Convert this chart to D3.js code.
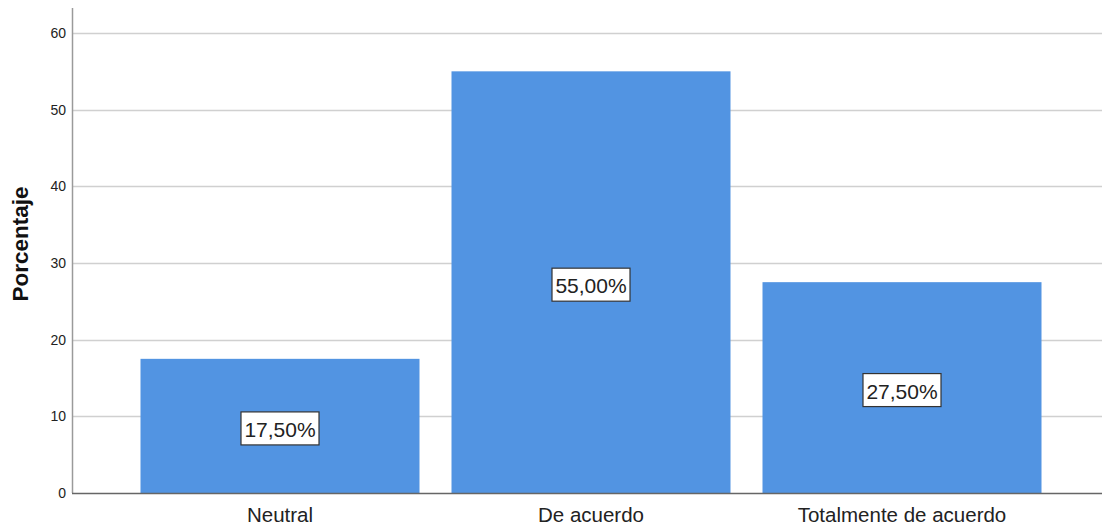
<!DOCTYPE html>
<html>
<head>
<meta charset="utf-8">
<script src="https://cdn.jsdelivr.net/npm/d3@7"></script>
<style>
html,body{margin:0;padding:0;background:#fff;}
svg{display:block;font-family:"Liberation Sans",Arial,sans-serif;}
</style>
</head>
<body>
<svg id="chart" width="1102" height="526"></svg>
<script>
const categories = ["Neutral", "De acuerdo", "Totalmente de acuerdo"];
const values = [17.5, 55.0, 27.5];
const valueLabels = ["17,50%", "55,00%", "27,50%"];
const yTicks = [0, 10, 20, 30, 40, 50, 60];
const yTitle = "Porcentaje";

const svg = d3.select("#chart");
const axisX = 72, plotRight = 1102, plotBottom = 493, axisTop = 8;

const y = d3.scaleLinear().domain([0, 60]).range([plotBottom, 33]);
const x = d3.scaleBand().domain(categories)
  .range([124.5, 1057.5]).paddingInner(32/311).paddingOuter(16/311);

// gridlines
svg.append("g").selectAll("line").data(yTicks.filter(d => d > 0)).join("line")
  .attr("x1", axisX).attr("x2", plotRight)
  .attr("y1", d => Math.round(y(d)) + 0.5).attr("y2", d => Math.round(y(d)) + 0.5)
  .attr("stroke", "#d0d0d0").attr("stroke-width", 1.5);

// bars
svg.append("g").selectAll("rect").data(categories).join("rect")
  .attr("x", d => x(d)).attr("width", x.bandwidth())
  .attr("y", (d, i) => y(values[i])).attr("height", (d, i) => plotBottom - y(values[i]))
  .attr("fill", "#5294e2");

// y axis
const yAxis = d3.axisLeft(y).tickValues(yTicks).tickSize(0).tickPadding(6);
const gy = svg.append("g").attr("transform", `translate(${axisX},0)`).call(yAxis);
gy.select(".domain").remove();
gy.selectAll("text").attr("font-size", 14).attr("fill", "#222")
  .attr("font-family", "'Liberation Sans',Arial,sans-serif");
svg.append("line").attr("x1", axisX + 0.5).attr("x2", axisX + 0.5)
  .attr("y1", axisTop).attr("y2", plotBottom).attr("stroke", "#9a9a9a").attr("stroke-width", 1.5);

// x axis
svg.append("line").attr("x1", axisX).attr("x2", plotRight)
  .attr("y1", plotBottom + 0.5).attr("y2", plotBottom + 0.5)
  .attr("stroke", "#666").attr("stroke-width", 1.5);
const xAxis = d3.axisBottom(x).tickSize(0).tickPadding(0);
const gx = svg.append("g").attr("transform", `translate(0,${plotBottom})`).call(xAxis);
gx.select(".domain").remove();
gx.selectAll("text").attr("font-size", 20.5).attr("fill", "#222").attr("dy", null)
  .attr("y", 29).attr("font-family", "'Liberation Sans',Arial,sans-serif");

// y title
svg.append("text").attr("transform", "translate(28,244) rotate(-90)")
  .attr("text-anchor", "middle").attr("font-size", 22.5).attr("font-weight", "bold")
  .attr("fill", "#111").text(yTitle);

// value labels
const lg = svg.append("g").selectAll("g").data(categories).join("g")
  .attr("transform", (d, i) => `translate(${x(d) + x.bandwidth()/2},${(y(values[i]) + plotBottom)/2 + 3})`);
lg.append("rect").attr("x", -39).attr("y", -17).attr("width", 78).attr("height", 33)
  .attr("fill", "#fff").attr("stroke", "#333").attr("stroke-width", 1.2);
lg.append("text").attr("text-anchor", "middle").attr("y", 8).attr("font-size", 21)
  .attr("fill", "#222").text((d, i) => valueLabels[i]);
</script>
</body>
</html>
